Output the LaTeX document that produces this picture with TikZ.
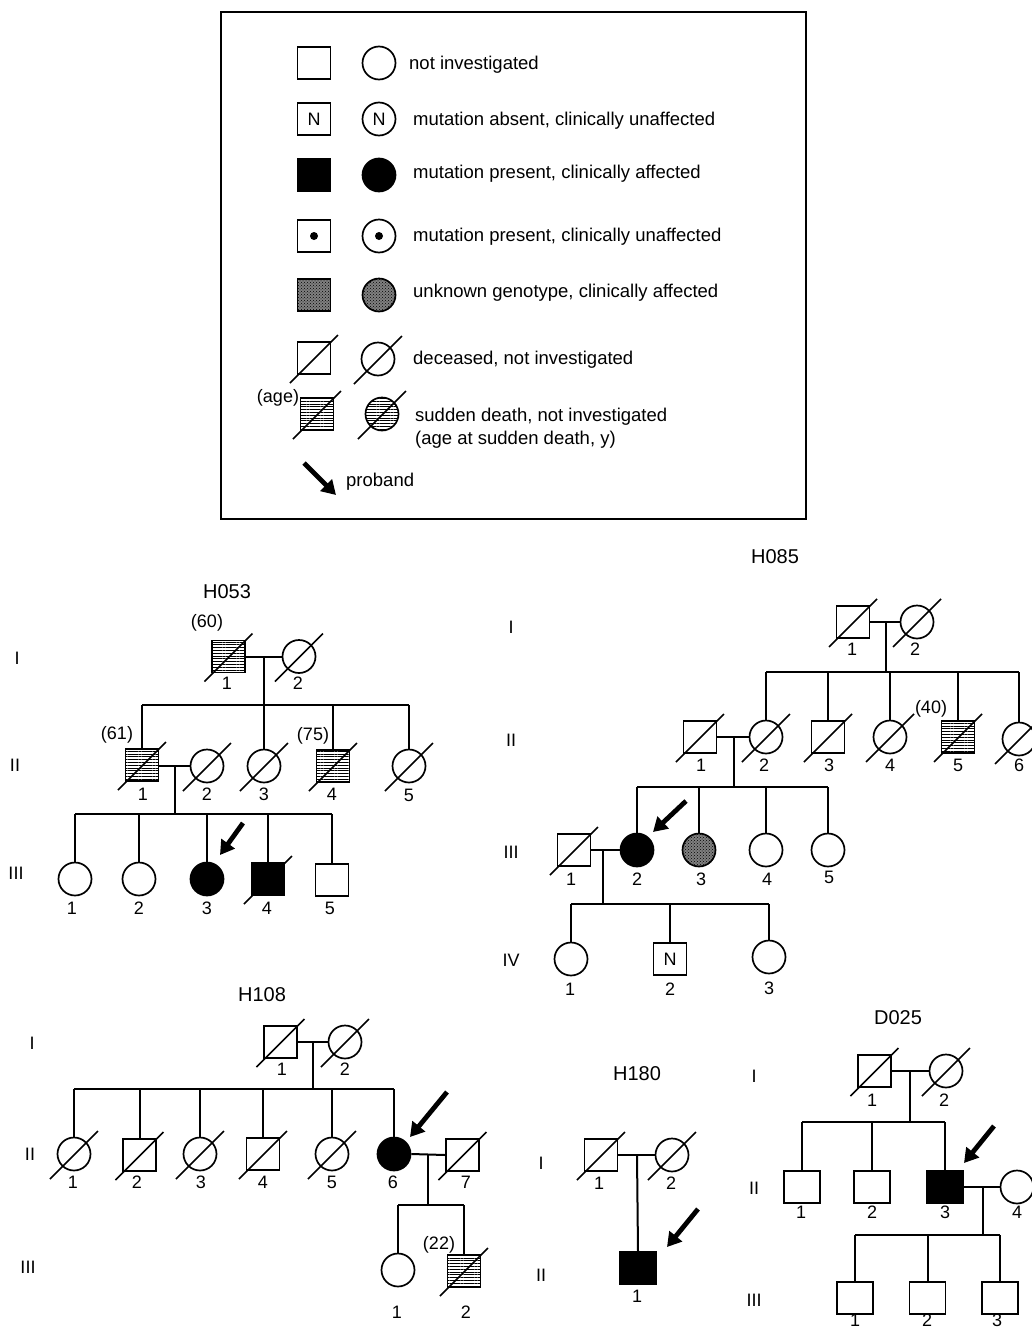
\documentclass[tikz,border=0pt]{standalone}
\usepackage{fontspec}
\setmainfont{Liberation Sans}
\usetikzlibrary{arrows.meta,patterns,patterns.meta}
\tikzset{
 sym/.style={draw, line width=1.7pt, inner sep=0pt, font=\fontsize{18}{18}\selectfont},
 sq/.style={sym, rectangle, minimum width=33pt, minimum height=32pt},
 sqw/.style={sym, rectangle, minimum width=36pt, minimum height=32pt},
 ci/.style={sym, circle, minimum size=33pt},
 aff/.style={fill=black},
 hatch/.style={pattern={Lines[distance=2.8pt,line width=0.8pt]}},
 unk/.style={fill=black!50, postaction={pattern=crosshatch dots}},
 dslash/.style={line width=1.5pt},
 lk/.style={line width=2pt},
 num/.style={font=\fontsize{18}{18}\selectfont, inner sep=0pt},
 ttl/.style={font=\fontsize{20}{20}\selectfont, inner sep=0pt},
 gen/.style={font=\fontsize{18}{18}\selectfont, inner sep=0pt},
 leg/.style={font=\fontsize{18.5}{18.5}\selectfont, inner sep=0pt, anchor=west},
 prob/.style={line width=4.8pt, -{Triangle[length=14pt,width=16pt]}},
}
\begin{document}
\begin{tikzpicture}[x=1pt,y=-1pt]
\useasboundingbox (0,0) rectangle (1032,1328);
% ================= LEGEND =================
\node[draw, line width=1.8pt, minimum width=585pt, minimum height=507pt, inner sep=0pt] (legbox) at (513.5,265.5) {};
\node[sq] (L1s) at (314,63) {};
\node[ci] (L1c) at (379,63) {};
\node[leg] (L1t) at (409,65) {not investigated};
\node[sq] (L2s) at (314,119) {N};
\node[ci] (L2c) at (379,119) {N};
\node[leg] (L2t) at (413,121) {mutation absent, clinically unaffected};
\node[sq,aff] (L3s) at (314,175) {};
\node[ci,aff] (L3c) at (379,175) {};
\node[leg] (L3t) at (413,174) {mutation present, clinically affected};
\node[sq] (L4s) at (314,236) {};
\node[ci] (L4c) at (379,236) {};
\fill (L4s.center) circle (4pt) (L4c.center) circle (4pt);
\node[leg] (L4t) at (413,237) {mutation present, clinically unaffected};
\node[sq,unk] (L5s) at (314,295) {};
\node[ci,unk] (L5c) at (379,295) {};
\node[leg] (L5t) at (413,293) {unknown genotype, clinically affected};
\node[sq] (L6s) at (314,358) {};
\node[ci] (L6c) at (378,359) {};
\node[leg] (L6t) at (413,360) {deceased, not investigated};
\node[num] (L7a) at (278,398) {(age)};
\node[sq,hatch] (L7s) at (317,414) {};
\node[ci,hatch] (L7c) at (382,414) {};
\node[leg] (L7t) at (415,417) {sudden death, not investigated};
\node[leg] (L7u) at (415,440) {(age at sudden death, y)};
\coordinate (L8a) at (304,463);
\coordinate (L8b) at (336,495);
\draw[prob] (L8a) -- (L8b);
\node[leg] (L8t) at (346,482) {proband};
\foreach \n in {L6s,L6c,L7s,L7c} \draw[dslash] (\n.center) +(-24,25) -- +(24,-23);
% ================= H053 =================
\node[ttl] (aT) at (227,592) {H053};
\node[gen] (aG1) at (17,658) {I};
\node[gen] (aG2) at (15,765) {II};
\node[gen] (aG3) at (16,873) {III};
\node[sq,hatch] (a11) at (228.5,656.5) {};
\node[ci] (a12) at (299,656.5) {};
\coordinate (a1m) at (264,656.5);
\coordinate (a2b) at (264,705);
\draw[lk] (a11.east) -- (a12.west);
\draw[lk] (a1m) -- (a2b);
\node[sq,hatch] (a21) at (142,765) {};
\node[ci] (a22) at (207,766) {};
\node[ci] (a23) at (264,766) {};
\node[sq,hatch] (a24) at (333,766) {};
\node[ci] (a25) at (409,766) {};
\draw[lk] (a21.north |- a2b) -- (a25.north |- a2b);
\foreach \c in {a21,a23,a24,a25} \draw[lk] (\c.north |- a2b) -- (\c.north);
\coordinate (a2m) at (175,766);
\coordinate (a3b) at (175,814);
\draw[lk] (a21.east |- a2m) -- (a22.west);
\draw[lk] (a2m) -- (a3b);
\node[ci] (a31) at (75,879) {};
\node[ci] (a32) at (139,879) {};
\node[ci,aff] (a33) at (207,879) {};
\node[sq,aff] (a34) at (268,879) {};
\node[sq] (a35) at (332,880) {};
\draw[lk] (a31.north |- a3b) -- (a35.north |- a3b);
\foreach \c in {a31,a32,a33,a34,a35} \draw[lk] (\c.north |- a3b) -- (\c.north);
\node[num] (aA1) at (207,623) {(60)};
\node[num] (aA2) at (117,735) {(61)};
\node[num] (aA3) at (313,736) {(75)};
\node[num] (an11) at (227,683) {1};
\node[num] (an12) at (298,683) {2};
\node[num] (an21) at (143,794) {1};
\node[num] (an22) at (207,794) {2};
\node[num] (an23) at (264,794) {3};
\node[num] (an24) at (332,794) {4};
\node[num] (an25) at (409,795) {5};
\node[num] (an31) at (72,908) {1};
\node[num] (an32) at (139,908) {2};
\node[num] (an33) at (207,908) {3};
\node[num] (an34) at (267,908) {4};
\node[num] (an35) at (330,908) {5};
\coordinate (aP1) at (243,823);
\coordinate (aP2) at (220,855);
\draw[prob] (aP1) -- (aP2);
\foreach \n in {a11,a12,a21,a22,a23,a24,a25,a34} \draw[dslash] (\n.center) +(-24,25) -- +(24,-23);
% ================= H085 =================
\node[ttl] (bT) at (775,557) {H085};
\node[gen] (bG1) at (511,627) {I};
\node[gen] (bG2) at (511,740) {II};
\node[gen] (bG3) at (511,852) {III};
\node[gen] (bG4) at (511,960) {IV};
\node[sq] (b11) at (853,622) {};
\node[ci] (b12) at (917,622) {};
\coordinate (b1m) at (886,622);
\coordinate (b2b) at (886,672);
\draw[lk] (b11.east) -- (b12.west);
\draw[lk] (b1m) -- (b2b);
\node[sq] (b21) at (700,737) {};
\node[ci] (b22) at (766,737) {};
\node[sq] (b23) at (828,737) {};
\node[ci] (b24) at (890,737) {};
\node[sq,hatch] (b25) at (958,737) {};
\node[ci] (b26) at (1019,739) {};
\draw[lk] (b22.north |- b2b) -- (b26.north |- b2b);
\foreach \c in {b22,b23,b24,b25,b26} \draw[lk] (\c.north |- b2b) -- (\c.north);
\coordinate (b2m) at (734,737);
\coordinate (b3b) at (734,787);
\draw[lk] (b21.east) -- (b22.west);
\draw[lk] (b2m) -- (b3b);
\node[sq] (b31) at (574,850) {};
\node[ci,aff] (b32) at (637,850) {};
\node[ci,unk] (b33) at (699,850) {};
\node[ci] (b34) at (766,850) {};
\node[ci] (b35) at (828,850) {};
\draw[lk] (b32.north |- b3b) -- (b35.north |- b3b);
\foreach \c in {b32,b33,b34,b35} \draw[lk] (\c.north |- b3b) -- (\c.north);
\coordinate (b3m) at (603,850);
\coordinate (b4b) at (603,904);
\draw[lk] (b31.east) -- (b32.west);
\draw[lk] (b3m) -- (b4b);
\node[ci] (b41) at (571,959) {};
\node[sq] (b42) at (670,959) {N};
\node[ci] (b43) at (769,957) {};
\draw[lk] (b41.north |- b4b) -- (b43.north |- b4b);
\foreach \c in {b41,b42,b43} \draw[lk] (\c.north |- b4b) -- (\c.north);
\node[num] (bA1) at (931,709) {(40)};
\node[num] (bn11) at (852,649) {1};
\node[num] (bn12) at (915,649) {2};
\node[num] (bn21) at (701,765) {1};
\node[num] (bn22) at (764,765) {2};
\node[num] (bn23) at (829,765) {3};
\node[num] (bn24) at (890,765) {4};
\node[num] (bn25) at (958,765) {5};
\node[num] (bn26) at (1019,765) {6};
\node[num] (bn31) at (571,879) {1};
\node[num] (bn32) at (637,879) {2};
\node[num] (bn33) at (701,879) {3};
\node[num] (bn34) at (767,879) {4};
\node[num] (bn35) at (829,877) {5};
\node[num] (bn41) at (570,989) {1};
\node[num] (bn42) at (670,989) {2};
\node[num] (bn43) at (769,988) {3};
\coordinate (bP1) at (686,801);
\coordinate (bP2) at (653,832);
\draw[prob] (bP1) -- (bP2);
\foreach \n in {b11,b12,b21,b22,b23,b24,b25,b26,b31} \draw[dslash] (\n.center) +(-24,25) -- +(24,-23);
% ================= H108 =================
\node[ttl] (cT) at (262,995) {H108};
\node[gen] (cG1) at (32,1043) {I};
\node[gen] (cG2) at (30,1154) {II};
\node[gen] (cG3) at (28,1267) {III};
\node[sq] (c11) at (280.5,1042) {};
\node[ci] (c12) at (345,1042) {};
\coordinate (c1m) at (313,1042);
\coordinate (c2b) at (313,1089);
\draw[lk] (c11.east) -- (c12.west);
\draw[lk] (c1m) -- (c2b);
\node[ci] (c21) at (74,1154) {};
\node[sq] (c22) at (139.5,1155) {};
\node[ci] (c23) at (200,1154) {};
\node[sq] (c24) at (263,1154) {};
\node[ci] (c25) at (332,1154) {};
\node[ci,aff] (c26) at (394,1154) {};
\node[sq] (c27) at (462.5,1155) {};
\draw[lk] (c21.north |- c2b) -- (c26.north |- c2b);
\foreach \c in {c21,c22,c23,c24,c25,c26} \draw[lk] (\c.north |- c2b) -- (\c.north);
\coordinate (c2m) at (428,1155);
\coordinate (c3b) at (428,1205);
\draw[lk] (c26.east) -- (c27.west);
\draw[lk] (c2m) -- (c3b);
\node[ci] (c31) at (398,1270) {};
\node[sq,hatch] (c32) at (464,1271) {};
\draw[lk] (c31.north |- c3b) -- (c32.north |- c3b);
\foreach \c in {c31,c32} \draw[lk] (\c.north |- c3b) -- (\c.north);
\node[num] (cA1) at (439,1245) {(22)};
\node[num] (cn11) at (282,1069) {1};
\node[num] (cn12) at (345,1069) {2};
\node[num] (cn21) at (73,1182) {1};
\node[num] (cn22) at (137,1182) {2};
\node[num] (cn23) at (201,1182) {3};
\node[num] (cn24) at (263,1182) {4};
\node[num] (cn25) at (332,1182) {5};
\node[num] (cn26) at (393,1182) {6};
\node[num] (cn27) at (466,1182) {7};
\node[num] (cn31) at (397,1312) {1};
\node[num] (cn32) at (466,1312) {2};
\coordinate (cP1) at (447,1092);
\coordinate (cP2) at (410,1137);
\draw[prob] (cP1) -- (cP2);
\foreach \n in {c11,c12,c21,c22,c23,c24,c25,c27,c32} \draw[dslash] (\n.center) +(-24,25) -- +(24,-23);
% ================= H180 =================
\node[ttl] (dT) at (637,1074) {H180};
\node[gen] (dG1) at (541,1163) {I};
\node[gen] (dG2) at (541,1275) {II};
\node[sq] (d11) at (601,1155) {};
\node[ci] (d12) at (672,1155) {};
\coordinate (d1m) at (637,1155);
\draw[lk] (d11.east) -- (d12.west);
\node[sqw,aff] (d21) at (638,1268) {};
\draw[lk] (d1m) -- (d21.north);
\node[num] (dn11) at (599,1183) {1};
\node[num] (dn12) at (671,1183) {2};
\node[num] (dn21) at (637,1296) {1};
\coordinate (dP1) at (698,1209);
\coordinate (dP2) at (667,1247);
\draw[prob] (dP1) -- (dP2);
\foreach \n in {d11,d12} \draw[dslash] (\n.center) +(-24,25) -- +(24,-23);
% ================= D025 =================
\node[ttl] (eT) at (898,1018) {D025};
\node[gen] (eG1) at (754,1076) {I};
\node[gen] (eG2) at (754,1188) {II};
\node[gen] (eG3) at (754,1300) {III};
\node[sq] (e11) at (874.5,1071) {};
\node[ci] (e12) at (946,1071) {};
\coordinate (e1m) at (910,1071);
\coordinate (e2b) at (910,1122);
\draw[lk] (e11.east) -- (e12.west);
\draw[lk] (e1m) -- (e2b);
\node[sqw] (e21) at (802,1187) {};
\node[sqw] (e22) at (872,1187) {};
\node[sqw,aff] (e23) at (945,1187) {};
\node[ci] (e24) at (1017,1187) {};
\draw[lk] (e21.north |- e2b) -- (e23.north |- e2b);
\foreach \c in {e21,e22,e23} \draw[lk] (\c.north |- e2b) -- (\c.north);
\coordinate (e2m) at (983,1187);
\coordinate (e3b) at (983,1235);
\draw[lk] (e23.east) -- (e24.west);
\draw[lk] (e2m) -- (e3b);
\node[sqw] (e31) at (855,1298) {};
\node[sqw] (e32) at (927.5,1298) {};
\node[sqw] (e33) at (1000,1298) {};
\draw[lk] (e31.north |- e3b) -- (e33.north |- e3b);
\foreach \c in {e31,e32,e33} \draw[lk] (\c.north |- e3b) -- (\c.north);
\node[num] (en11) at (872,1100) {1};
\node[num] (en12) at (944,1100) {2};
\node[num] (en21) at (801,1212) {1};
\node[num] (en22) at (872,1212) {2};
\node[num] (en23) at (945,1212) {3};
\node[num] (en24) at (1017,1212) {4};
\node[num] (en31) at (855,1320) {1};
\node[num] (en32) at (927,1320) {2};
\node[num] (en33) at (997,1320) {3};
\coordinate (eP1) at (994,1126);
\coordinate (eP2) at (964,1163);
\draw[prob] (eP1) -- (eP2);
\foreach \n in {e11,e12} \draw[dslash] (\n.center) +(-24,25) -- +(24,-23);
\end{tikzpicture}
\end{document}
